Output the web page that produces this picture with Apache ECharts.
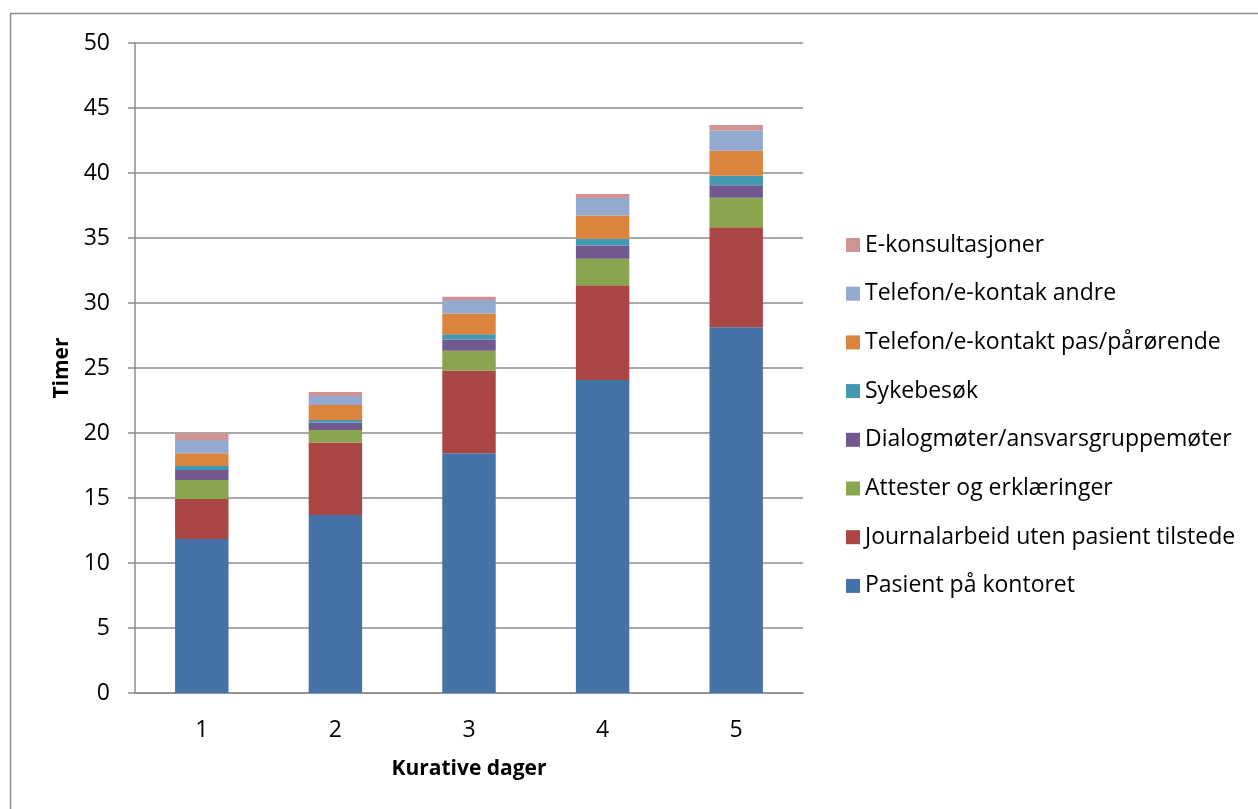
<!DOCTYPE html>
<html>
<head>
<meta charset="utf-8">
<script src="https://cdn.jsdelivr.net/npm/echarts@6/dist/echarts.min.js"></script>
<style>
  html, body { margin: 0; padding: 0; background: #fff; }
  #chart { width: 1258px; height: 809px; }
</style>
</head>
<body>
<div id="chart"></div>
<script>
// data
const days = ['1', '2', '3', '4', '5'];
const seriesNames = [
  'Pasient på kontoret',
  'Journalarbeid uten pasient tilstede',
  'Attester og erklæringer',
  'Dialogmøter/ansvarsgruppemøter',
  'Sykebesøk',
  'Telefon/e-kontakt pas/pårørende',
  'Telefon/e-kontak andre',
  'E-konsultasjoner'
];
const pasient = [11.85, 13.7, 18.44, 24.08, 28.13];
const journal = [3.07, 5.56, 6.36, 7.28, 7.69];
const attester = [1.46, 0.97, 1.53, 2.05, 2.28];
const dialog = [0.77, 0.57, 0.87, 1.02, 0.95];
const sykebesok = [0.31, 0.2, 0.4, 0.52, 0.74];
const telefonPas = [0.98, 1.15, 1.6, 1.79, 1.93];
const telefonAndre = [1.02, 0.7, 1.03, 1.33, 1.54];
const ekons = [0.52, 0.3, 0.26, 0.31, 0.43];
const yTicks = [0, 5, 10, 15, 20, 25, 30, 35, 40, 45, 50];

const values = [pasient, journal, attester, dialog, sykebesok, telefonPas, telefonAndre, ekons];
const colors = ['#4572A7', '#AA4643', '#89A54E', '#71588F', '#4198AF', '#DB843D', '#93A9CF', '#D19392'];

const font = '"Open Sans", "Noto Sans", sans-serif';

const chart = echarts.init(document.getElementById('chart'));

const series = seriesNames.map((name, i) => ({
  name: name,
  type: 'bar',
  stack: 'total',
  barWidth: '40%',
  data: values[i],
  itemStyle: { color: colors[i] }
}));

chart.setOption({
  animation: false,
  color: colors,
  graphic: [{
    type: 'rect',
    shape: { x: 10.5, y: 13.5, width: 1400, height: 900 },
    style: { fill: 'none', stroke: '#8c8c8c', lineWidth: 1.5 },
    silent: true
  }],
  grid: { left: 135, top: 43, right: 455, bottom: 116 },
  legend: {
    orient: 'vertical',
    left: 841,
    top: 228,
    data: seriesNames.slice().reverse(),
    icon: 'rect',
    itemWidth: 14,
    itemHeight: 14,
    itemGap: 24.7,
    textStyle: { fontFamily: font, fontSize: 23, color: '#000', lineHeight: 24 }
  },
  xAxis: {
    type: 'category',
    data: days,
    name: 'Kurative dager',
    nameLocation: 'middle',
    nameGap: 66,
    nameTextStyle: { fontFamily: font, fontSize: 21, fontWeight: 'bold', color: '#000' },
    axisLine: { lineStyle: { color: '#8c8c8c', width: 1.5 } },
    axisTick: { length: 8, lineStyle: { color: '#8c8c8c', width: 1.5 } },
    axisLabel: { fontFamily: font, fontSize: 23, color: '#000', margin: 26 }
  },
  yAxis: {
    type: 'value',
    min: yTicks[0],
    max: yTicks[yTicks.length - 1],
    interval: 5,
    name: 'Timer',
    nameLocation: 'middle',
    nameGap: 62,
    nameTextStyle: { fontFamily: font, fontSize: 21, fontWeight: 'bold', color: '#000' },
    axisLine: { show: true, lineStyle: { color: '#8c8c8c', width: 1.5 } },
    axisTick: { show: true, length: 7, lineStyle: { color: '#8c8c8c', width: 1.5 } },
    axisLabel: { fontFamily: font, fontSize: 23, color: '#000', margin: 25 },
    splitLine: { lineStyle: { color: '#8c8c8c', width: 1.5 } }
  },
  series: series
});
</script>
</body>
</html>
